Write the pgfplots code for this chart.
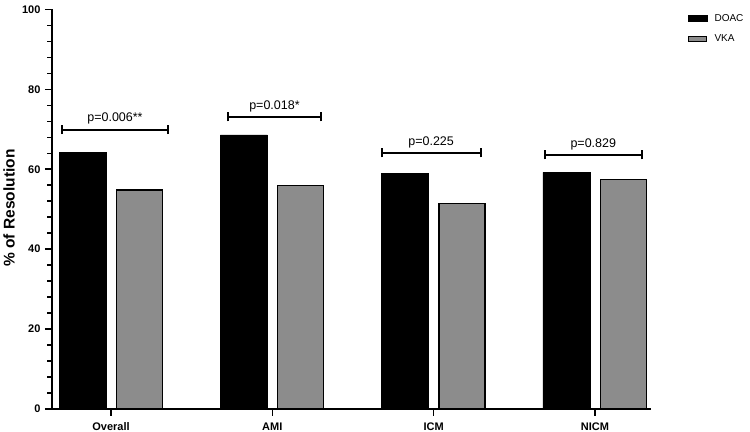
\documentclass[border=0pt]{standalone}
\usepackage{pgfplots}
\pgfplotsset{compat=1.18}
\usepackage{fontspec}
\setmainfont{Liberation Sans}
\definecolor{vkagray}{HTML}{8C8C8C}

% significance bracket: left x, right x, height, label
\newcommand{\sigbracket}[4]{%
  \draw[line width=2bp] (axis cs:#1,#3) -- (axis cs:#2,#3);
  \draw[line width=2bp] ([yshift=-4.5bp]axis cs:#1,#3) -- ([yshift=4.5bp]axis cs:#1,#3);
  \draw[line width=2bp] ([yshift=-4.5bp]axis cs:#2,#3) -- ([yshift=4.5bp]axis cs:#2,#3);
  \path (axis cs:#1,#3) -- node[pos=0.5, above=5bp, inner sep=0pt,
     font=\fontsize{12.5bp}{14bp}\selectfont] {#4} (axis cs:#2,#3);
}

\begin{document}
\begin{tikzpicture}
% fixed page frame around the axis
\path[use as bounding box] (-52bp,-23bp) rectangle (698bp,409bp);
\begin{axis}[
  at={(0,0)}, anchor=south west,
  scale only axis,
  width=599bp, height=399.5bp,
  ybar,
  xmin=-0.366, xmax=3.348,
  ymin=0, ymax=100,
  xtick={0,1,2,3},
  xticklabels={Overall,AMI,ICM,NICM},
  ytick={0,20,40,60,80,100},
  minor y tick num=4,
  axis x line*=bottom,
  axis y line*=left,
  axis line style={line width=2bp, -},
  tick align=outside,
  major tick length=7bp,
  minor tick length=4.5bp,
  every tick/.style={black, line width=1.6bp},
  tick label style={font=\fontsize{11bp}{13bp}\selectfont\bfseries},
  /pgf/number format/assume math mode=true,
  yticklabel style={xshift=-1bp},
  xticklabel style={yshift=-3bp},
  ylabel={\% of Resolution},
  ylabel style={font=\fontsize{15.5bp}{18bp}\selectfont\bfseries,
    at={(axis description cs:-0.0718,0.503)}, anchor=center},
  legend style={
    at={(axis description cs:1.056,0.999)}, anchor=north west,
    draw=none, fill=none,
    font=\fontsize{10bp}{11bp}\selectfont,
    row sep=8bp,
  },
  legend cell align=left,
  clip=false,
]
\addplot[fill=black, draw=black, bar width=47bp, bar shift=-28.5bp,
  legend image code/.code={\draw[fill=black,draw=black] (0bp,-3bp) rectangle (19bp,3bp); \path (24bp,0);}]
  coordinates {(0,64.2) (1,68.6) (2,58.9) (3,59.2)};
\addlegendentry{DOAC}
\addplot[fill=vkagray, draw=black, line width=1.2bp, bar width=46bp, bar shift=28.5bp,
  legend image code/.code={\draw[fill=vkagray,draw=black,line width=1.2bp] (0.5bp,-2.5bp) rectangle (18.5bp,2.5bp); \path (24bp,0);}]
  coordinates {(0,54.8) (1,56.0) (2,51.5) (3,57.4)};
\addlegendentry{VKA}

\sigbracket{-0.305}{0.354}{69.9}{p=0.006**}
\sigbracket{0.727}{1.30}{73.1}{p=0.018*}
\sigbracket{1.677}{2.292}{64.1}{p=0.225}
\sigbracket{2.69}{3.29}{63.6}{p=0.829}
\end{axis}
\end{tikzpicture}
\end{document}
